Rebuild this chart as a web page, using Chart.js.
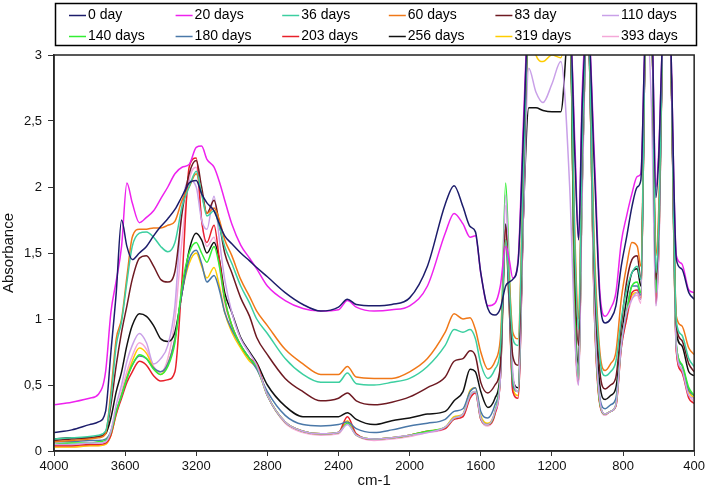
<!DOCTYPE html>
<html>
<head>
<meta charset="utf-8">
<script src="https://cdn.jsdelivr.net/npm/chart.js@4.4.1/dist/chart.umd.min.js"></script>
<style>
  html, body { margin: 0; padding: 0; background: #fff; }
  #wrap { width: 708px; height: 493px; position: relative; }
</style>
</head>
<body>
<div id="wrap"><canvas id="irChart"></canvas></div>
<script>
// ====== DATA ======
const wavenumbers = [
  4000, 3900, 3800, 3750, 3710, 3680, 3650, 3620, 3590, 3560,
  3520, 3480, 3440, 3400, 3360, 3320, 3280, 3240, 3200, 3170,
  3140, 3100, 3070, 3040, 3000, 2950, 2900, 2860, 2800, 2700,
  2600, 2500, 2400, 2350, 2300, 2200, 2100, 2000, 1900, 1800,
  1750, 1700, 1660, 1630, 1600, 1560, 1520, 1490, 1460, 1440,
  1420, 1390, 1360, 1330, 1290, 1250, 1200, 1150, 1100, 1070,
  1050, 1030, 1000, 960, 930, 900, 870, 840, 810, 780,
  750, 720, 700, 670, 640, 615, 600, 570, 540, 500,
  470, 430, 400
];

const day0 = [
  0.14, 0.16, 0.20, 0.22, 0.30, 0.75, 1.20, 1.75, 1.55, 1.45,
  1.50, 1.55, 1.63, 1.70, 1.76, 1.83, 1.93, 2.03, 2.05, 1.95,
  1.88, 1.82, 1.72, 1.63, 1.57, 1.50, 1.44, 1.39, 1.32, 1.20,
  1.11, 1.06, 1.09, 1.15, 1.11, 1.10, 1.11, 1.16, 1.40, 1.87,
  2.01, 1.85, 1.70, 1.66, 1.35, 1.08, 1.03, 1.08, 1.25, 1.28,
  1.30, 1.43, 2.40, 3.3, 3.3, 3.3, 3.3, 3.3, 3.3, 2.20,
  1.60, 2.60, 3.3, 2.10, 1.15, 0.97, 1.00, 1.10, 1.40, 1.62,
  1.85, 2.00, 2.05, 3.3, 3.3, 1.92, 2.20, 3.3, 3.3, 1.45,
  1.38, 1.20, 1.15
];
const day20 = [
  0.35, 0.37, 0.40, 0.43, 0.60, 1.05, 1.29, 1.55, 2.03, 1.88,
  1.73, 1.77, 1.82, 1.91, 2.00, 2.10, 2.15, 2.17, 2.30, 2.31,
  2.21, 2.15, 2.04, 1.90, 1.72, 1.56, 1.46, 1.38, 1.25, 1.14,
  1.08, 1.06, 1.07, 1.14, 1.09, 1.06, 1.07, 1.10, 1.25, 1.65,
  1.80, 1.72, 1.62, 1.63, 1.35, 1.10, 1.12, 1.25, 1.55, 1.45,
  1.31, 1.45, 2.50, 3.3, 3.3, 3.3, 3.3, 3.3, 3.3, 2.30,
  1.60, 2.70, 3.3, 2.20, 1.20, 1.02, 1.08, 1.20, 1.58, 1.78,
  1.95, 2.08, 2.10, 3.3, 3.3, 2.00, 2.25, 3.3, 3.3, 1.48,
  1.42, 1.22, 1.20
];
const day36 = [
  0.09, 0.10, 0.11, 0.12, 0.15, 0.40, 0.80, 0.98, 1.28, 1.55,
  1.65, 1.66, 1.62, 1.55, 1.51, 1.58, 1.85, 2.00, 2.12, 1.95,
  1.78, 1.82, 1.70, 1.55, 1.42, 1.25, 1.12, 1.00, 0.89, 0.70,
  0.58, 0.52, 0.52, 0.59, 0.51, 0.50, 0.52, 0.55, 0.64, 0.80,
  0.92, 0.90, 0.92, 0.85, 0.66, 0.55, 0.62, 0.77, 1.60, 1.25,
  0.85, 0.80, 2.10, 3.3, 3.3, 3.3, 3.3, 3.3, 3.3, 1.50,
  0.92, 2.30, 3.3, 1.40, 0.70, 0.57, 0.60, 0.68, 1.00, 1.22,
  1.35, 1.40, 1.30, 3.3, 3.3, 1.35, 1.70, 3.3, 3.3, 0.98,
  0.88, 0.70, 0.64
];
const day60 = [
  0.07, 0.08, 0.09, 0.10, 0.13, 0.45, 0.85, 1.00, 1.32, 1.62,
  1.68, 1.68, 1.69, 1.69, 1.71, 1.74, 1.90, 2.00, 2.10, 1.95,
  1.80, 1.84, 1.75, 1.60, 1.48, 1.30, 1.17, 1.06, 0.95, 0.77,
  0.66, 0.58, 0.58, 0.64, 0.56, 0.55, 0.55, 0.60, 0.70, 0.90,
  1.04, 1.00, 1.01, 0.92, 0.75, 0.62, 0.68, 0.85, 1.60, 1.30,
  0.90, 0.85, 2.20, 3.3, 3.3, 3.3, 3.3, 3.3, 3.3, 1.60,
  1.00, 2.40, 3.3, 1.50, 0.75, 0.61, 0.66, 0.75, 1.15, 1.40,
  1.58, 1.55, 1.40, 3.3, 3.3, 1.48, 1.80, 3.3, 3.3, 1.02,
  0.95, 0.78, 0.73
];
const day83 = [
  0.08, 0.09, 0.10, 0.11, 0.14, 0.35, 0.65, 0.90, 1.10, 1.30,
  1.46, 1.48, 1.40, 1.30, 1.28, 1.36, 1.80, 2.10, 2.20, 2.00,
  1.80, 1.90, 1.72, 1.50, 1.35, 1.16, 1.02, 0.86, 0.73, 0.55,
  0.45, 0.38, 0.40, 0.44, 0.38, 0.35, 0.37, 0.41, 0.48, 0.56,
  0.68, 0.70, 0.76, 0.72, 0.52, 0.44, 0.50, 0.65, 1.70, 1.20,
  0.72, 0.65, 2.00, 3.3, 3.3, 3.3, 3.3, 3.3, 3.3, 1.30,
  0.80, 2.20, 3.3, 1.30, 0.60, 0.47, 0.50, 0.56, 0.95, 1.28,
  1.45, 1.48, 1.30, 3.3, 3.3, 1.30, 1.65, 3.3, 3.3, 0.95,
  0.84, 0.66, 0.60
];
const day110 = [
  0.05, 0.05, 0.06, 0.06, 0.07, 0.15, 0.35, 0.50, 0.68, 0.80,
  0.89, 0.82, 0.66, 0.70, 0.80, 1.10, 1.85, 2.05, 2.00, 1.75,
  1.68, 1.93, 1.60, 1.30, 1.05, 0.85, 0.74, 0.65, 0.42, 0.22,
  0.15, 0.13, 0.14, 0.20, 0.12, 0.09, 0.10, 0.12, 0.14, 0.18,
  0.25, 0.28, 0.42, 0.45, 0.25, 0.20, 0.30, 0.55, 1.94, 1.30,
  0.60, 0.45, 1.80, 2.90, 2.72, 2.64, 2.78, 2.95, 2.00, 0.85,
  0.50, 1.90, 3.3, 1.05, 0.38, 0.28, 0.30, 0.35, 0.80, 1.05,
  1.15, 1.20, 1.15, 3.3, 2.60, 1.10, 1.45, 3.3, 3.3, 0.78,
  0.62, 0.42, 0.40
];
const day140 = [
  0.05, 0.06, 0.06, 0.07, 0.08, 0.14, 0.30, 0.42, 0.55, 0.65,
  0.73, 0.70, 0.62, 0.58, 0.64, 0.82, 1.25, 1.50, 1.58, 1.50,
  1.43, 1.55, 1.40, 1.15, 0.95, 0.80, 0.70, 0.64, 0.42, 0.22,
  0.15, 0.13, 0.14, 0.21, 0.12, 0.09, 0.10, 0.12, 0.15, 0.18,
  0.25, 0.28, 0.42, 0.45, 0.25, 0.20, 0.30, 0.60, 2.03, 1.40,
  0.55, 0.45, 1.90, 3.3, 3.3, 3.3, 3.3, 3.3, 3.3, 1.00,
  0.55, 2.00, 3.3, 1.05, 0.36, 0.28, 0.30, 0.35, 0.82, 1.05,
  1.25, 1.28, 1.20, 3.3, 3.3, 1.20, 1.55, 3.3, 3.3, 0.80,
  0.66, 0.48, 0.42
];
const day180 = [
  0.07, 0.07, 0.08, 0.08, 0.09, 0.15, 0.30, 0.42, 0.55, 0.65,
  0.72, 0.70, 0.63, 0.60, 0.66, 0.85, 1.20, 1.45, 1.52, 1.42,
  1.28, 1.33, 1.22, 1.05, 0.92, 0.80, 0.70, 0.62, 0.45, 0.27,
  0.20, 0.19, 0.20, 0.22, 0.17, 0.14, 0.16, 0.19, 0.21, 0.24,
  0.30, 0.32, 0.45, 0.48, 0.30, 0.25, 0.35, 0.55, 1.60, 1.10,
  0.50, 0.45, 1.80, 3.3, 3.3, 3.3, 3.3, 3.3, 3.3, 1.00,
  0.55, 2.00, 3.3, 1.10, 0.40, 0.32, 0.35, 0.40, 0.80, 1.05,
  1.25, 1.25, 1.18, 3.3, 3.3, 1.20, 1.55, 3.3, 3.3, 0.80,
  0.65, 0.46, 0.42
];
const day203 = [
  0.04, 0.04, 0.05, 0.05, 0.06, 0.12, 0.28, 0.40, 0.52, 0.60,
  0.68, 0.65, 0.57, 0.53, 0.54, 0.60, 1.30, 2.15, 2.22, 1.75,
  1.58, 1.71, 1.45, 1.15, 0.95, 0.80, 0.70, 0.66, 0.42, 0.22,
  0.15, 0.13, 0.14, 0.26, 0.13, 0.09, 0.10, 0.12, 0.15, 0.17,
  0.24, 0.26, 0.40, 0.44, 0.24, 0.20, 0.28, 0.55, 1.68, 1.10,
  0.45, 0.40, 1.80, 3.3, 3.3, 3.3, 3.3, 3.3, 3.3, 0.95,
  0.52, 2.00, 3.3, 1.00, 0.35, 0.28, 0.30, 0.34, 0.78, 1.00,
  1.20, 1.22, 1.15, 3.3, 3.3, 1.12, 1.50, 3.3, 3.3, 0.75,
  0.60, 0.40, 0.36
];
const day256 = [
  0.09, 0.10, 0.10, 0.11, 0.13, 0.25, 0.45, 0.60, 0.80, 0.95,
  1.04, 1.02, 0.95, 0.85, 0.83, 0.90, 1.20, 1.52, 1.65, 1.60,
  1.50, 1.58, 1.45, 1.20, 1.05, 0.86, 0.75, 0.67, 0.50, 0.34,
  0.26, 0.26, 0.26, 0.29, 0.24, 0.20, 0.23, 0.25, 0.28, 0.30,
  0.38, 0.45, 0.62, 0.60, 0.45, 0.33, 0.40, 0.60, 1.72, 1.20,
  0.55, 0.48, 1.80, 2.60, 2.60, 2.58, 2.57, 2.57, 3.3, 1.10,
  0.65, 2.10, 3.3, 1.20, 0.50, 0.39, 0.42, 0.48, 0.85, 1.15,
  1.35, 1.38, 1.25, 3.3, 3.3, 1.25, 1.60, 3.3, 3.3, 0.90,
  0.80, 0.60, 0.57
];
const day319 = [
  0.03, 0.03, 0.04, 0.04, 0.05, 0.12, 0.28, 0.42, 0.56, 0.68,
  0.78, 0.74, 0.63, 0.58, 0.66, 0.85, 1.20, 1.42, 1.50, 1.40,
  1.31, 1.39, 1.25, 1.05, 0.90, 0.78, 0.68, 0.63, 0.42, 0.22,
  0.15, 0.13, 0.14, 0.23, 0.12, 0.09, 0.10, 0.12, 0.15, 0.18,
  0.26, 0.28, 0.46, 0.48, 0.27, 0.21, 0.30, 0.55, 1.60, 1.10,
  0.48, 0.42, 1.90, 3.3, 3.00, 2.95, 3.00, 2.98, 3.3, 1.00,
  0.52, 2.00, 3.3, 1.05, 0.36, 0.28, 0.30, 0.35, 0.80, 1.02,
  1.18, 1.20, 1.15, 3.3, 3.3, 1.15, 1.50, 3.3, 3.3, 0.78,
  0.62, 0.45, 0.40
];
const day393 = [
  0.03, 0.03, 0.04, 0.04, 0.05, 0.12, 0.30, 0.45, 0.60, 0.72,
  0.82, 0.77, 0.64, 0.60, 0.70, 1.00, 1.60, 2.05, 2.15, 1.75,
  1.55, 1.62, 1.40, 1.12, 0.95, 0.80, 0.70, 0.65, 0.42, 0.21,
  0.14, 0.12, 0.13, 0.21, 0.12, 0.08, 0.09, 0.11, 0.14, 0.17,
  0.24, 0.26, 0.40, 0.44, 0.24, 0.19, 0.28, 0.55, 1.86, 1.20,
  0.45, 0.42, 1.80, 3.3, 3.3, 3.3, 3.3, 3.3, 3.3, 0.90,
  0.50, 1.95, 3.3, 1.00, 0.35, 0.27, 0.30, 0.34, 0.78, 1.00,
  1.15, 1.18, 1.12, 3.3, 3.3, 1.10, 1.45, 3.3, 3.3, 0.76,
  0.60, 0.42, 0.38
];

const seriesLabels = ['0 day', '20 days', '36 days', '60 days', '83 day', '110 days',
                      '140 days', '180 days', '203 days', '256 days', '319 days', '393 days'];
const seriesValues = [day0, day20, day36, day60, day83, day110,
                      day140, day180, day203, day256, day319, day393];
const seriesColors = ['#1c1c6b', '#ee22ee', '#3ccfa0', '#f07818', '#6e1a22', '#c9a0e8',
                      '#33ee33', '#4a78a8', '#e8202a', '#111111', '#ffcc00', '#f4a8d8'];
const yTicks = [0, 0.5, 1, 1.5, 2, 2.5, 3];
const xTicks = [4000, 3600, 3200, 2800, 2400, 2000, 1600, 1200, 800, 400];

const FONT = '"Liberation Sans", Arial, sans-serif';

// ====== PLUGINS ======

// box legend, 2 rows x 6 columns
const boxLegend = {
  id: 'boxLegend',
  afterDraw(chart) {
    const ctx = chart.ctx;
    ctx.save();
    ctx.strokeStyle = '#000';
    ctx.lineWidth = 1.5;
    ctx.strokeRect(55.5, 3.5, 641, 42);
    ctx.font = '14px ' + FONT;
    ctx.textBaseline = 'middle';
    chart.data.datasets.forEach((ds, i) => {
      const col = i % 6, row = Math.floor(i / 6);
      const tx = 88 + col * 106.6;
      const ty = 15 + row * 21;
      ctx.strokeStyle = ds.borderColor;
      ctx.lineWidth = 1.5;
      ctx.beginPath();
      ctx.moveTo(tx - 19, ty + 0.5);
      ctx.lineTo(tx - 2, ty + 0.5);
      ctx.stroke();
      ctx.fillStyle = '#000';
      ctx.fillText(ds.label, tx, ty);
    });
    ctx.restore();
  }
};

// frame around plot area
const plotFrame = {
  id: 'plotFrame',
  afterDatasetsDraw(chart) {
    const {ctx, chartArea: a} = chart;
    ctx.save();
    ctx.strokeStyle = '#222';
    ctx.lineWidth = 1.5;
    ctx.strokeRect(a.left, a.top, a.right - a.left, a.bottom - a.top);
    ctx.restore();
  }
};

// ====== CHART ======
function initIrChart() {
  const ctx = document.getElementById('irChart');

  new Chart(ctx, {
    type: 'line',
    data: {
      datasets: seriesLabels.map((label, i) => ({
        label: label,
        data: wavenumbers.map((w, j) => ({ x: w, y: seriesValues[i][j] })),
        borderColor: seriesColors[i],
        backgroundColor: seriesColors[i],
        borderWidth: 1.5,
        pointRadius: 0,
        cubicInterpolationMode: 'monotone',
        fill: false
      }))
    },
    options: {
      responsive: true,
      maintainAspectRatio: false,
      animation: false,
      layout: { padding: { top: 55, right: 11, left: 0, bottom: 0 } },
      plugins: { legend: { display: false }, tooltip: { enabled: false } },
      scales: {
        x: {
          type: 'linear',
          reverse: true,
          min: 400,
          max: 4000,
          afterBuildTicks: s => { s.ticks = xTicks.map(v => ({ value: v })); },
          afterFit: s => { s.height = 42; },
          grid: { drawOnChartArea: false, drawTicks: true, tickLength: 5, color: '#333' },
          border: { display: true, color: '#333', width: 1.5 },
          ticks: {
            padding: 3,
            maxRotation: 0,
            autoSkip: false,
            color: '#111',
            font: { family: FONT, size: 13 },
            callback: v => String(v)
          },
          title: {
            display: true,
            text: 'cm-1',
            color: '#111',
            font: { family: FONT, size: 15 },
            padding: { top: 0, bottom: 3 }
          }
        },
        y: {
          min: 0,
          max: 3,
          afterBuildTicks: s => { s.ticks = yTicks.map(v => ({ value: v })); },
          afterFit: s => { s.width = 54; },
          grid: { drawOnChartArea: false, drawTicks: true, tickLength: 6, color: '#333' },
          border: { display: true, color: '#333', width: 1.5 },
          ticks: {
            padding: 6,
            color: '#111',
            font: { family: FONT, size: 13 },
            callback: v => String(v).replace('.', ',')
          },
          title: {
            display: true,
            text: 'Absorbance',
            color: '#111',
            font: { family: FONT, size: 15 },
            padding: { top: 0, bottom: 0 }
          }
        }
      }
    },
    plugins: [boxLegend, plotFrame]
  });
}

initIrChart();
</script>
</body>
</html>
